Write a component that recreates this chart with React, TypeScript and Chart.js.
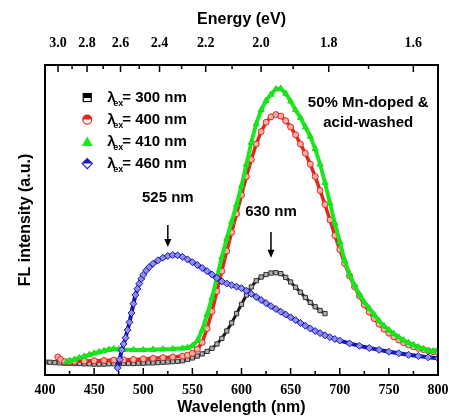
import React, { useEffect, useRef } from "react";
import { Chart, registerables } from "chart.js";

Chart.register(...registerables);

// Emission spectra: [wavelength (nm), FL intensity (a.u.)]
const ex300: [number, number][] = [
  [400, 4.2], [405, 4.1], [410, 4.0], [415, 3.9], [420, 3.8], [425, 3.8], [430, 3.7], [435, 3.7],
  [440, 3.6], [445, 3.6], [450, 3.5], [455, 3.5], [460, 3.5], [465, 3.6], [470, 3.6], [475, 3.6],
  [480, 3.7], [485, 3.7], [490, 3.7], [495, 3.8], [500, 3.8], [505, 3.9], [510, 3.9], [515, 4.0],
  [520, 4.1], [525, 4.2], [530, 4.3], [535, 4.4], [540, 4.6], [545, 5.0], [550, 5.5], [555, 6.1],
  [560, 6.8], [565, 7.6], [570, 8.6], [575, 10.0], [580, 11.8], [585, 14.2], [590, 16.8], [595, 19.8],
  [600, 22.8], [605, 25.8], [610, 28.4], [615, 30.4], [620, 31.6], [625, 32.4], [630, 32.9], [635, 33.0],
  [640, 32.7], [645, 31.5], [650, 30.0], [655, 28.3], [660, 26.7], [665, 25.0], [670, 23.4], [675, 22.0],
  [680, 20.8], [685, 19.8],
];

const ex400: [number, number][] = [
  [413, 5.8], [416, 5.0], [420, 4.3], [425, 4.3], [430, 4.4], [440, 4.5], [450, 4.6], [460, 4.7],
  [470, 4.8], [480, 4.9], [490, 5.0], [500, 5.2], [510, 5.4], [520, 5.6], [530, 5.8], [540, 6.1],
  [545, 6.4], [550, 7.0], [555, 8.3], [560, 10.5], [565, 15.0], [570, 20.5], [575, 27.0], [580, 33.5],
  [585, 40.0], [590, 46.0], [595, 52.0], [600, 58.0], [605, 64.0], [610, 69.5], [615, 74.5], [620, 78.5],
  [625, 81.5], [630, 83.3], [635, 84.0], [640, 83.5], [645, 82.0], [650, 80.0], [655, 77.5], [660, 74.5],
  [665, 71.5], [670, 68.0], [675, 64.0], [680, 59.5], [685, 55.0], [690, 50.0], [695, 45.0], [700, 40.5],
  [705, 36.0], [710, 32.0], [715, 28.5], [720, 25.5], [725, 22.7], [730, 20.3], [735, 18.2], [740, 16.4],
  [745, 14.8], [750, 13.5], [755, 12.3], [760, 11.3], [765, 10.4], [770, 9.7], [775, 9.1], [780, 8.6],
  [785, 8.2], [790, 7.8], [795, 7.5], [800, 7.3],
];

const ex410: [number, number][] = [
  [422, 4.2], [425, 4.6], [430, 5.0], [435, 5.5], [440, 6.0], [445, 6.5], [450, 7.0], [455, 7.4],
  [460, 7.8], [465, 8.2], [470, 8.4], [475, 8.3], [480, 8.2], [490, 8.1], [500, 8.1], [510, 8.2],
  [520, 8.3], [530, 8.4], [540, 8.6], [545, 8.8], [550, 9.4], [555, 11.0], [560, 14.5], [565, 19.5],
  [570, 25.0], [575, 31.5], [580, 38.0], [585, 44.0], [590, 49.5], [595, 55.0], [600, 61.0], [605, 68.0],
  [610, 75.0], [615, 81.0], [620, 85.5], [625, 88.5], [630, 90.5], [635, 92.2], [640, 92.4], [645, 90.8],
  [650, 88.3], [655, 85.5], [660, 83.0], [665, 80.0], [670, 77.0], [675, 73.0], [680, 68.0], [685, 62.0],
  [690, 55.5], [695, 49.0], [700, 43.0], [705, 37.0], [710, 32.5], [715, 29.0], [720, 26.0], [725, 23.5],
  [730, 21.5], [735, 19.5], [740, 17.5], [745, 15.8], [750, 14.5], [755, 13.3], [760, 12.2], [765, 11.2],
  [770, 10.4], [775, 9.7], [780, 9.0], [785, 8.4], [790, 7.9], [795, 7.7], [800, 8.2],
];

const ex460: [number, number][] = [
  [474, 2.3], [476, 5.0], [478, 8.0], [480, 10.0], [482, 12.0], [484, 14.5], [486, 17.0], [488, 20.0],
  [490, 23.0], [492, 25.8], [494, 27.8], [496, 29.5], [498, 31.0], [500, 32.3], [503, 33.7], [506, 34.8],
  [510, 35.9], [515, 37.0], [520, 37.8], [525, 38.4], [530, 38.7], [535, 38.6], [540, 38.1], [545, 37.3],
  [550, 36.4], [555, 35.5], [560, 34.5], [565, 33.5], [570, 32.4], [575, 31.3], [580, 30.2], [585, 29.5],
  [590, 29.0], [595, 28.5], [600, 28.0], [605, 27.2], [610, 26.2], [615, 25.2], [620, 24.2], [625, 23.2],
  [630, 22.2], [635, 21.3], [640, 20.4], [645, 19.5], [650, 18.6], [655, 17.7], [660, 16.8], [665, 15.9],
  [670, 15.0], [675, 14.2], [680, 13.5], [685, 12.8], [690, 12.2], [695, 11.6], [700, 11.1], [710, 10.2],
  [720, 9.4], [730, 8.7], [740, 8.1], [750, 7.5], [760, 7.0], [770, 6.5], [780, 6.1], [790, 5.7], [800, 5.4],
];

const excitationLabels = ["300 nm", "400 nm", "410 nm", "460 nm"];
const wavelengthTicks = [400, 450, 500, 550, 600, 650, 700, 750, 800];
const wavelengthMinorTicks = [425, 475, 525, 575, 625, 675, 725, 775];
const energyTicks = [3.0, 2.8, 2.6, 2.4, 2.2, 2.0, 1.8, 1.6];
const energyMinorTicks = [2.9, 2.7, 2.5, 2.3, 2.1, 1.9, 1.7];
const peakWavelengths = [525, 630];
const sampleNote = ["50% Mn-doped &", "acid-washed"];

const HC = 1239.84; // eV·nm

const SANS = '"Liberation Sans", Arial, sans-serif';
const SERIF = '"Liberation Serif", "Times New Roman", serif';

const toXY = (arr: [number, number][]) => arr.map(([x, y]) => ({ x, y }));

function drawLegendMarker(ctx: CanvasRenderingContext2D, kind: number, cx: number, cy: number) {
  ctx.save();
  ctx.lineWidth = 1.2;
  if (kind === 0) {
    ctx.fillStyle = "#fff";
    ctx.fillRect(cx - 4, cy - 4, 8, 8);
    ctx.fillStyle = "#000";
    ctx.fillRect(cx - 4, cy - 4, 8, 4.5);
    ctx.strokeStyle = "#000";
    ctx.strokeRect(cx - 4, cy - 4, 8, 8);
  } else if (kind === 1) {
    ctx.fillStyle = "#fff";
    ctx.beginPath();
    ctx.arc(cx, cy, 4.5, 0, Math.PI * 2);
    ctx.fill();
    ctx.fillStyle = "#e8261c";
    ctx.beginPath();
    ctx.arc(cx, cy, 4.5, Math.PI, Math.PI * 2);
    ctx.fill();
    ctx.strokeStyle = "#e8261c";
    ctx.beginPath();
    ctx.arc(cx, cy, 4.5, 0, Math.PI * 2);
    ctx.stroke();
  } else if (kind === 2) {
    ctx.fillStyle = "#1ee61e";
    ctx.beginPath();
    ctx.moveTo(cx, cy - 5);
    ctx.lineTo(cx + 5.5, cy + 4.5);
    ctx.lineTo(cx - 5.5, cy + 4.5);
    ctx.closePath();
    ctx.fill();
  } else {
    ctx.fillStyle = "#fff";
    ctx.beginPath();
    ctx.moveTo(cx, cy - 5);
    ctx.lineTo(cx + 5, cy);
    ctx.lineTo(cx, cy + 5);
    ctx.lineTo(cx - 5, cy);
    ctx.closePath();
    ctx.fill();
    ctx.fillStyle = "#1a1ac0";
    ctx.beginPath();
    ctx.moveTo(cx, cy - 5);
    ctx.lineTo(cx + 5, cy);
    ctx.lineTo(cx - 5, cy);
    ctx.closePath();
    ctx.fill();
    ctx.strokeStyle = "#1a1ac0";
    ctx.beginPath();
    ctx.moveTo(cx, cy - 5);
    ctx.lineTo(cx + 5, cy);
    ctx.lineTo(cx, cy + 5);
    ctx.lineTo(cx - 5, cy);
    ctx.closePath();
    ctx.stroke();
  }
  ctx.restore();
}

function drawArrow(ctx: CanvasRenderingContext2D, x: number, y0: number, y1: number) {
  ctx.save();
  ctx.strokeStyle = "#000";
  ctx.fillStyle = "#000";
  ctx.lineWidth = 1.5;
  ctx.beginPath();
  ctx.moveTo(x, y0);
  ctx.lineTo(x, y1 - 6);
  ctx.stroke();
  ctx.beginPath();
  ctx.moveTo(x, y1);
  ctx.lineTo(x - 3.5, y1 - 8);
  ctx.lineTo(x + 3.5, y1 - 8);
  ctx.closePath();
  ctx.fill();
  ctx.restore();
}

const framePlugin = {
  id: "spectrumFrame",
  afterDraw(chart: any) {
    const ctx: CanvasRenderingContext2D = chart.ctx;
    const { left, right, top, bottom } = chart.chartArea;
    const xs = chart.scales.x;
    const ys = chart.scales.y;
    ctx.save();

    // frame
    ctx.strokeStyle = "#000";
    ctx.lineWidth = 2;
    ctx.strokeRect(left, top, right - left, bottom - top);

    // bottom wavelength ticks (inward)
    ctx.lineWidth = 1.5;
    ctx.beginPath();
    wavelengthTicks.forEach((v) => {
      const px = xs.getPixelForValue(v);
      ctx.moveTo(px, bottom);
      ctx.lineTo(px, bottom - 7);
    });
    wavelengthMinorTicks.forEach((v) => {
      const px = xs.getPixelForValue(v);
      ctx.moveTo(px, bottom);
      ctx.lineTo(px, bottom - 4);
    });
    // top energy ticks (inward)
    energyTicks.forEach((e) => {
      const px = xs.getPixelForValue(HC / e);
      ctx.moveTo(px, top);
      ctx.lineTo(px, top + 7);
    });
    energyMinorTicks.forEach((e) => {
      const px = xs.getPixelForValue(HC / e);
      ctx.moveTo(px, top);
      ctx.lineTo(px, top + 4);
    });
    ctx.stroke();

    // tick labels
    ctx.fillStyle = "#000";
    ctx.font = `bold 14px ${SERIF}`;
    ctx.textAlign = "center";
    ctx.textBaseline = "middle";
    wavelengthTicks.forEach((v) => {
      ctx.fillText(String(v), xs.getPixelForValue(v), bottom + 15);
    });
    energyTicks.forEach((e) => {
      ctx.fillText(e.toFixed(1), xs.getPixelForValue(HC / e), top - 22);
    });

    // axis titles
    ctx.font = `bold 16px ${SANS}`;
    ctx.fillText("Wavelength (nm)", (left + right) / 2, bottom + 33);
    ctx.fillText("Energy (eV)", (left + right) / 2, top - 45);
    ctx.save();
    ctx.translate(left - 19, (top + bottom) / 2);
    ctx.rotate(-Math.PI / 2);
    ctx.fillText("FL intensity (a.u.)", 0, 0);
    ctx.restore();

    // legend
    const legX = xs.getPixelForValue(443);
    excitationLabels.forEach((lab, i) => {
      const cy = ys.getPixelForValue(89.5 - i * 7.1);
      drawLegendMarker(ctx, i, legX, cy);
      ctx.textAlign = "left";
      ctx.textBaseline = "middle";
      ctx.font = `bold 15px ${SANS}`;
      ctx.fillText("\u03bb", legX + 20, cy);
      ctx.font = `bold 9px ${SANS}`;
      ctx.fillText("ex", legX + 26, cy + 6);
      ctx.font = `bold 15px ${SANS}`;
      ctx.fillText("= " + lab, legX + 35, cy);
    });

    // sample description
    ctx.textAlign = "center";
    ctx.font = `bold 15px ${SANS}`;
    const noteX = xs.getPixelForValue(729);
    ctx.fillText(sampleNote[0], noteX, ys.getPixelForValue(87.7));
    ctx.fillText(sampleNote[1], noteX, ys.getPixelForValue(81.3));

    // peak markers
    const notes = [
      { nm: peakWavelengths[0], label: 57, from: 48.4, to: 41.3 },
      { nm: peakWavelengths[1], label: 52.6, from: 46.1, to: 37.8 },
    ];
    notes.forEach((n) => {
      const px = xs.getPixelForValue(n.nm);
      ctx.fillText(`${n.nm} nm`, px, ys.getPixelForValue(n.label));
      drawArrow(ctx, px, ys.getPixelForValue(n.from), ys.getPixelForValue(n.to));
    });

    ctx.restore();
  },
};

export default function App() {
  const ref = useRef<HTMLCanvasElement | null>(null);

  useEffect(() => {
    document.body.style.margin = "0";
    const canvas = ref.current;
    if (!canvas) return;

    const chart = new Chart(canvas, {
      type: "line",
      data: {
        datasets: [
          {
            label: "300 nm",
            data: toXY(ex300),
            borderColor: "#151515",
            borderWidth: 3,
            pointStyle: "rect",
            pointRadius: 3,
            pointBorderWidth: 1,
            pointBorderColor: "#333",
            pointBackgroundColor: "#b0b0b0",
            order: 3,
          },
          {
            label: "400 nm",
            data: toXY(ex400),
            borderColor: "#e3261c",
            borderWidth: 3.5,
            pointStyle: "circle",
            pointRadius: 3,
            pointBorderWidth: 1,
            pointBorderColor: "#e3261c",
            pointBackgroundColor: "#f5b0aa",
            order: 2,
          },
          {
            label: "410 nm",
            data: toXY(ex410),
            borderColor: "#1ee61e",
            borderWidth: 4,
            pointStyle: "triangle",
            pointRadius: 3.5,
            pointBorderWidth: 1,
            pointBorderColor: "#16dc16",
            pointBackgroundColor: "#1ee61e",
            order: 1,
          },
          {
            label: "460 nm",
            data: toXY(ex460),
            borderColor: "#1616b8",
            borderWidth: 4,
            pointStyle: "rectRot",
            pointRadius: 3.5,
            pointBorderWidth: 1,
            pointBorderColor: "#1a1ac0",
            pointBackgroundColor: "#8e8ee4",
            order: 0,
          },
        ],
      },
      options: {
        responsive: false,
        animation: false,
        events: [],
        layout: { padding: { left: 45, right: 11, top: 65, bottom: 41 } },
        plugins: { legend: { display: false }, tooltip: { enabled: false } },
        scales: {
          x: { type: "linear", min: 400, max: 800, display: false },
          y: { type: "linear", min: 0, max: 100, display: false },
        },
      },
      plugins: [framePlugin],
    });

    return () => chart.destroy();
  }, []);

  return (
    <div style={{ width: 449, height: 416, background: "#fff" }}>
      <canvas ref={ref} width={449} height={416} />
    </div>
  );
}
